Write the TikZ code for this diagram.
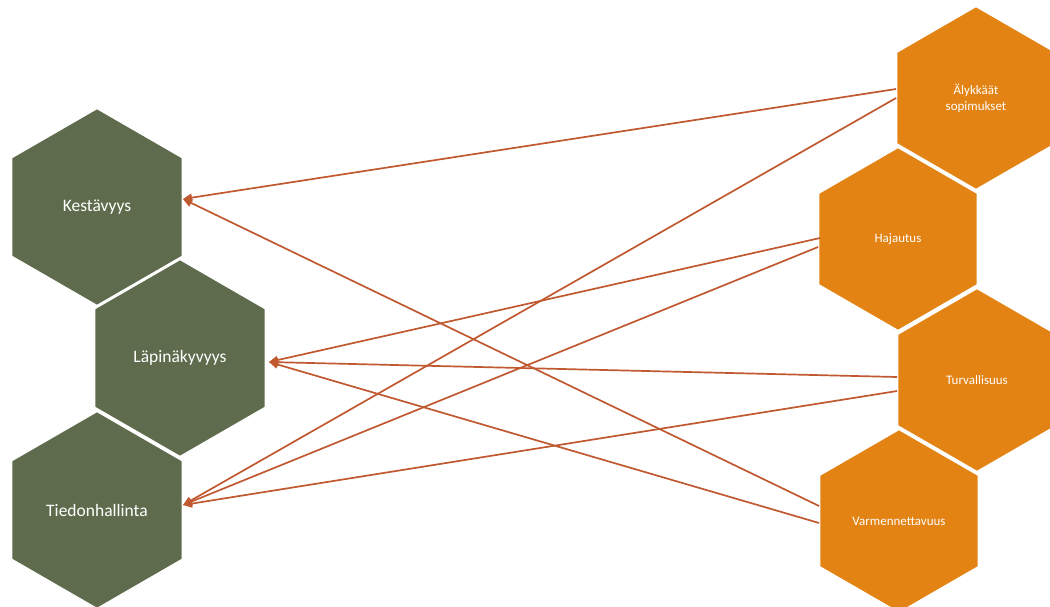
\documentclass[tikz,border=0pt]{standalone}
\usepackage{fontspec}
\setmainfont{Carlito}
\usetikzlibrary{shapes.geometric}
\usetikzlibrary{arrows.meta}
\definecolor{hexgreen}{RGB}{94,107,76}
\definecolor{hexorange}{RGB}{226,131,20}
\definecolor{linkred}{RGB}{192,88,48}

\begin{document}
\begin{tikzpicture}
	[x=1pt, y=-1pt,
	 hex/.style = {regular polygon, regular polygon sides=6, shape border rotate=30, draw=white, line width=1.3pt, text=white, align=center, inner sep=0pt},
	 aim/.style = {hex, fill=hexgreen, minimum size=197pt, font=\fontsize{17.5}{20}\selectfont},
	 tool/.style = {hex, fill=hexorange, minimum size=183pt, font=\fontsize{13}{16}\selectfont},
	 link/.style = {draw=linkred, line width=1.7pt, -{Triangle[length=9pt,width=8pt]}}]
	\useasboundingbox (0,0) rectangle (1050,606);
	\node[aim] (kest) at (97,207) {Kestävyys};
	\node[aim] (lapi) at (180,358) {Läpinäkyvyys};
	\node[aim] (tied) at (97,510) {Tiedonhallinta};
	\node[tool] (alyk) at (976,98) {Älykkäät\\sopimukset};
	\node[tool] (haja) at (898,239) {Hajautus};
	\node[tool] (turv) at (977,380) {Turvallisuus};
	\node[tool] (varm) at (899,521) {Varmennettavuus};
	\draw[link] ([yshift=9pt]alyk.180) -- ([yshift=8pt]kest.0);
	\draw[link] (alyk.180) -- ([yshift=5pt]tied.0);
	\draw[link] ([xshift=2pt,yshift=1pt]haja.180) -- ([xshift=3pt,yshift=-4pt]lapi.0);
	\draw[link] ([yshift=-8pt]haja.180) -- ([yshift=5pt]tied.0);
	\draw[link] ([yshift=3pt]turv.180) -- ([xshift=3pt,yshift=-4pt]lapi.0);
	\draw[link] ([yshift=-11pt]turv.180) -- ([yshift=5pt]tied.0);
	\draw[link] ([yshift=15pt]varm.180) -- ([yshift=8pt]kest.0);
	\draw[link] ([yshift=-2pt]varm.180) -- ([xshift=3pt,yshift=-4pt]lapi.0);
\end{tikzpicture}
\end{document}
